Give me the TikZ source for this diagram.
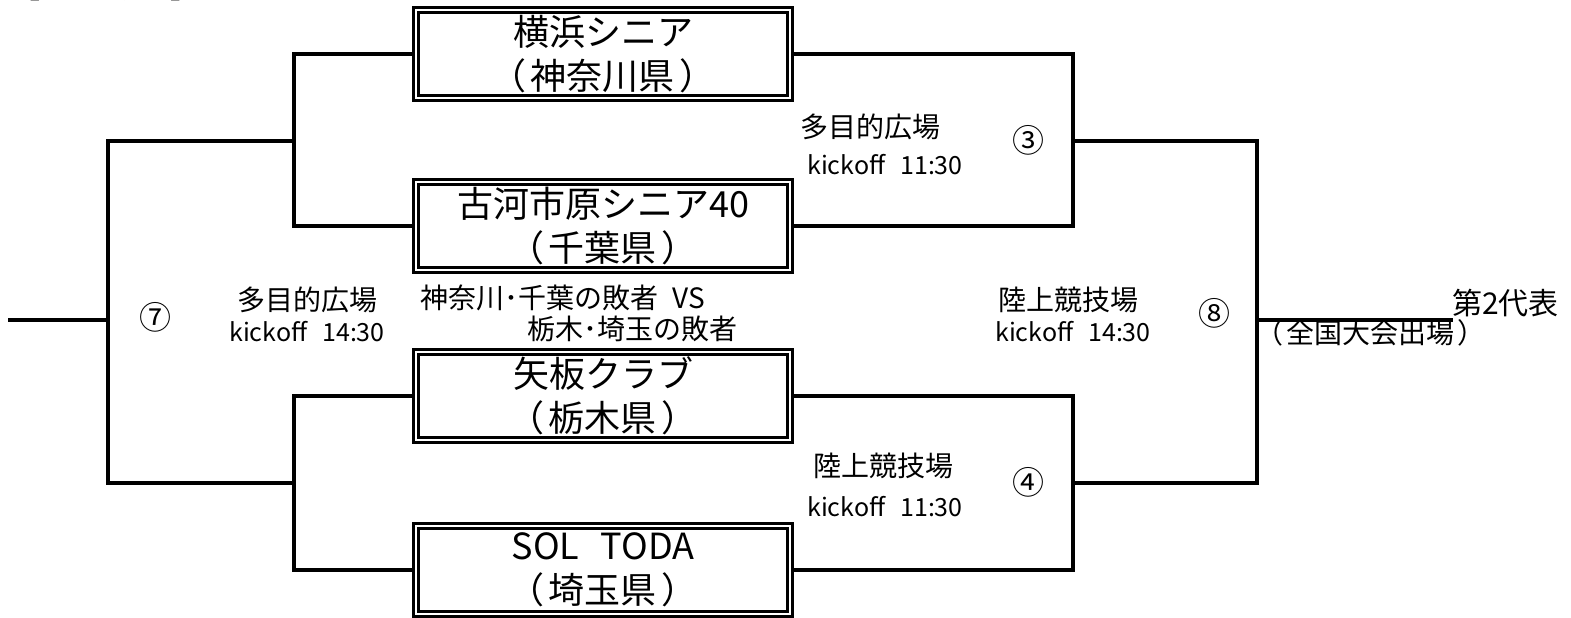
\documentclass[tikz,border=0pt]{standalone}
\usepackage{fontspec}
\setmainfont{Noto Sans CJK JP}
\newcommand{\kakko}[1]{（\kern.12em#1\kern.12em）}

\tikzset{
	team/.style={draw, line width=3.2pt, double, double distance=2pt, minimum width=374pt, minimum height=88pt, inner sep=0pt, align=center, font=\fontsize{36}{44}\selectfont},
	bracket/.style={line width=3.2pt},
	venue/.style={inner sep=0pt, font=\fontsize{28}{34}\selectfont},
	kick/.style={inner sep=0pt, font=\fontsize{25}{30}\selectfont},
	gameno/.style={inner sep=0pt, font=\fontsize{32}{38}\selectfont},
	note/.style={inner sep=0pt, font=\fontsize{28}{32}\selectfont}
}

\begin{document}
\begin{tikzpicture}[x=1pt, y=-1pt]
		%%%%% START %%%%%
		\useasboundingbox (0, 0) rectangle (1571, 618);
		\node[note, anchor=base west] (blk) at (12, -1) {【Bブロック】};
		
		% teams
		\node[team] (yoko) at (603, 54) {横浜シニア\\\kakko{神奈川県}};
		\node[team] (koga) at (603, 226) {古河市原シニア40\\\kakko{千葉県}};
		\node[team] (yaita) at (603, 396) {矢板クラブ\\\kakko{栃木県}};
		\node[team] (toda) at (603, 570) {SOL\hspace{0.6em}TODA\\\kakko{埼玉県}};
		
		% bracket joints
		\coordinate (j1) at (294, 141);
		\coordinate (j2) at (294, 483);
		\coordinate (j3) at (1073, 141);
		\coordinate (j4) at (1073, 483);
		\coordinate (j7) at (108, 320);
		\coordinate (j8) at (1257, 320);
		\coordinate (in7) at (8, 320);
		\coordinate (out8) at (1453, 320);
		
		\draw[bracket] (yoko.west) -| (j1) |- (koga.west);
		\draw[bracket] (yaita.west) -| (j2) |- (toda.west);
		\draw[bracket] (yoko.east) -| (j3) |- (koga.east);
		\draw[bracket] (yaita.east) -| (j4) |- (toda.east);
		\draw[bracket] (j1) -| (j7) |- (j2);
		\draw[bracket] (j3) -| (j8) |- (j4);
		\draw[bracket] (in7) -- (j7);
		\draw[bracket] (j8) -- (out8);
		
		% games
		\node[venue] (v3) at (870, 127) {多目的広場};
		\node[kick] (k3) at (885, 165) {kickoff\hspace{0.6em}11:30};
		\node[gameno] (g3) at (1028, 140) {③};
		
		\node[venue] (v4) at (883, 466) {陸上競技場};
		\node[kick] (k4) at (885, 507) {kickoff\hspace{0.6em}11:30};
		\node[gameno] (g4) at (1028, 482) {④};
		
		\node[gameno] (g7) at (155, 317) {⑦};
		\node[venue] (v7) at (307, 300) {多目的広場};
		\node[kick] (k7) at (307, 332) {kickoff\hspace{0.6em}14:30};
		\node[note, anchor=west] (lose1) at (420, 298) {神奈川･千葉の敗者\hspace{0.5em}VS};
		\node[note, anchor=east] (lose2) at (738, 329) {栃木･埼玉の敗者};
		
		\node[venue] (v8) at (1068, 300) {陸上競技場};
		\node[kick] (k8) at (1073, 332) {kickoff\hspace{0.6em}14:30};
		\node[gameno] (g8) at (1214, 313) {⑧};
		
		\node[note, anchor=west, font=\fontsize{30}{34}\selectfont] (rep) at (1452, 303) {第2代表};
		\node[note, anchor=west] (zen) at (1255, 333) {\kakko{全国大会出場}};
		%%%%% END %%%%%
	\end{tikzpicture}
\end{document}
